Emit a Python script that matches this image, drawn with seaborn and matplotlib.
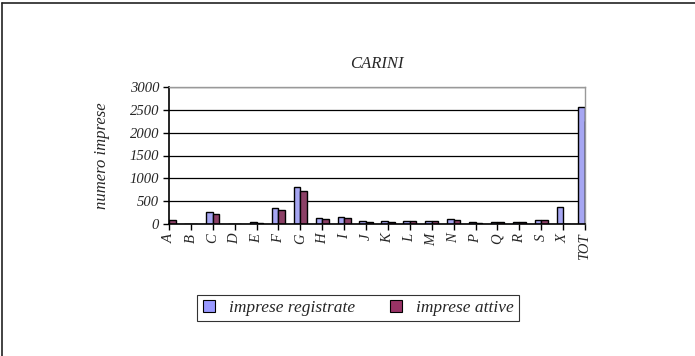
import matplotlib
matplotlib.use("Agg")
import matplotlib.pyplot as plt
from matplotlib.lines import Line2D
from matplotlib.patches import Patch
import seaborn as sns
import pandas as pd

categories = ["A", "B", "C", "D", "E", "F", "G", "H", "I", "J", "K", "L",
              "M", "N", "P", "Q", "R", "S", "X", "TOT"]
registrate = [95, 5, 260, 0, 40, 350, 800, 135, 160, 60, 60, 65,
              65, 100, 40, 50, 45, 90, 370, 2556]
attive = [80, 3, 220, 0, 30, 310, 715, 120, 135, 50, 50, 55,
          55, 90, 30, 40, 40, 80, 5, 2250]
series_names = ["imprese registrate", "imprese attive"]
colors = ["#9999FF", "#993366"]
yticks = [0, 500, 1000, 1500, 2000, 2500, 3000]

df = pd.DataFrame({
    "cat": categories * 2,
    "val": registrate + attive,
    "serie": [series_names[0]] * len(categories) + [series_names[1]] * len(categories),
})

sns.set_theme(style="white")
plt.rcParams["font.family"] = ["Liberation Serif", "DejaVu Serif"]
plt.rcParams["font.style"] = "italic"

fig = plt.figure(figsize=(6.95, 3.56), dpi=100)
ax = fig.add_axes([169 / 695, 1 - 224 / 356, (585 - 169) / 695, (224 - 87) / 356])

sns.barplot(data=df, x="cat", y="val", hue="serie", order=categories,
            hue_order=series_names, palette=colors, width=0.6,
            edgecolor="black", linewidth=1.0, ax=ax, legend=False)

ax.set_xlim(0, len(categories) - 1)
ax.set_ylim(0, 3000)
ax.set_yticks(yticks)
ax.set_yticklabels([str(v) for v in yticks], fontsize=10.5, style="italic")
ax.set_xticks(range(len(categories)))
ax.set_xticklabels(categories, rotation=90, fontsize=10.5, style="italic")
ax.tick_params(axis="both", direction="out", length=4, width=1, color="black",
               bottom=True, left=True, pad=3)
ax.yaxis.grid(True, color="black", linewidth=0.9)
ax.set_axisbelow(True)
for side in ["left", "bottom"]:
    ax.spines[side].set_color("black")
    ax.spines[side].set_linewidth(1.2)
for side in ["top", "right"]:
    ax.spines[side].set_visible(True)
    ax.spines[side].set_color("#999999")
    ax.spines[side].set_linewidth(1.0)
ax.set_xlabel("")
ax.set_ylabel("numero imprese", fontsize=12, style="italic", labelpad=14)
ax.set_title("CARINI", fontsize=12, style="italic", pad=14)

handles = [Patch(facecolor=c, edgecolor="black", linewidth=0.8) for c in colors]
leg = fig.legend(handles, series_names, loc="center", bbox_to_anchor=(358 / 695, 1 - 308 / 356),
                 ncol=2, frameon=True, fancybox=False, fontsize=12.5,
                 handlelength=0.7, handleheight=0.7, columnspacing=2.0, borderpad=0.3,
                 handletextpad=0.8)
leg.get_frame().set_edgecolor("black")
leg.get_frame().set_linewidth(0.8)
for t in leg.get_texts():
    t.set_style("italic")

# figure border lines (top and left)
fig.add_artist(Line2D([2 / 695, 1], [1 - 3 / 356, 1 - 3 / 356], transform=fig.transFigure,
                      color="#222222", linewidth=1.2))
fig.add_artist(Line2D([2 / 695, 2 / 695], [0, 1 - 3 / 356], transform=fig.transFigure,
                      color="#222222", linewidth=1.2))

fig.savefig("out.png", dpi=100)
